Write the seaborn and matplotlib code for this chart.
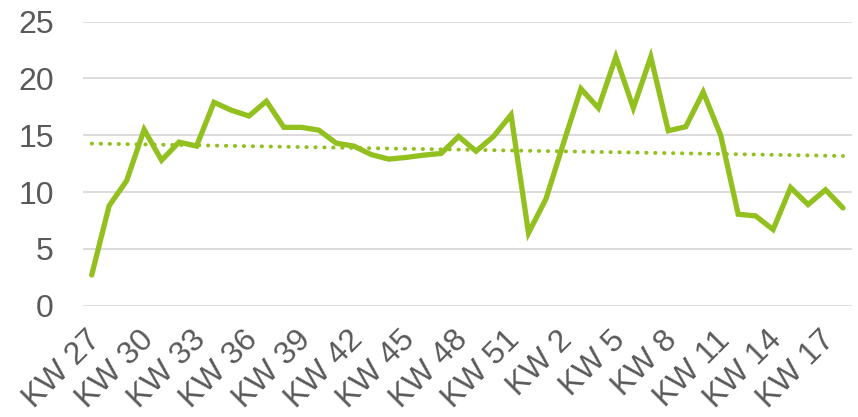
import matplotlib
matplotlib.use("Agg")
import matplotlib.pyplot as plt
import matplotlib.transforms as mtransforms
import seaborn as sns
import numpy as np
import pandas as pd

weeks = [f"KW {w}" for w in list(range(27, 53)) + list(range(1, 19))]
values = [2.7, 8.8, 11.0, 15.5, 12.8, 14.4, 14.05, 17.9, 17.2, 16.7,
          18.0, 15.7, 15.7, 15.45, 14.3, 14.05, 13.3, 12.9, 13.05, 13.25,
          13.4, 14.9, 13.6, 14.9, 16.8, 6.4, 9.4, 14.3, 19.1, 17.4,
          21.9, 17.4, 21.9, 15.4, 15.75, 18.8, 15.0, 8.05, 7.9, 6.7,
          10.4, 8.9, 10.2, 8.6]
tick_every = 3

df = pd.DataFrame({"idx": np.arange(len(weeks)), "week": weeks, "value": values})
coef = np.polyfit(df["idx"], df["value"], 1)
df["trend"] = np.polyval(coef, df["idx"])

sns.set_theme(style="white")
plt.rcParams["font.family"] = ["Liberation Sans", "DejaVu Sans"]

green = "#92C01E"
fig = plt.figure(figsize=(8.58, 4.17), dpi=100)
ax = fig.add_axes([0.0967, 0.267, 0.896, 0.681])

sns.lineplot(data=df, x="idx", y="trend", ax=ax, color=green, linewidth=2.8,
             linestyle=(0, (0.1, 2.2)))
ax.lines[0].set_dash_capstyle("round")
sns.lineplot(data=df, x="idx", y="value", ax=ax, color=green, linewidth=3.8,
             solid_joinstyle="miter", solid_capstyle="round")

ax.set_xlim(-0.5, len(weeks) - 0.5)
ax.set_ylim(0, 25)
ax.set_yticks([0, 5, 10, 15, 20, 25])
ax.yaxis.grid(True, color="#D9D9D9", linewidth=1.3)
ax.set_axisbelow(True)
for s in ax.spines.values():
    s.set_visible(False)
ax.set_xlabel("")
ax.set_ylabel("")

ticks = list(range(0, len(weeks), tick_every))
ax.set_xticks(ticks)
ax.set_xticklabels([weeks[i] for i in ticks], rotation=45, ha="right", va="top",
                   rotation_mode="anchor")
ax.tick_params(axis="x", length=0, pad=14, labelsize=23, labelcolor="#595959")
ax.tick_params(axis="y", length=0, pad=21, labelsize=23, labelcolor="#595959")
offset = mtransforms.ScaledTranslation(-6 / 100, 0, fig.dpi_scale_trans)
for lab in ax.get_xticklabels():
    lab.set_transform(lab.get_transform() + offset)

fig.savefig("out.png", dpi=100)
